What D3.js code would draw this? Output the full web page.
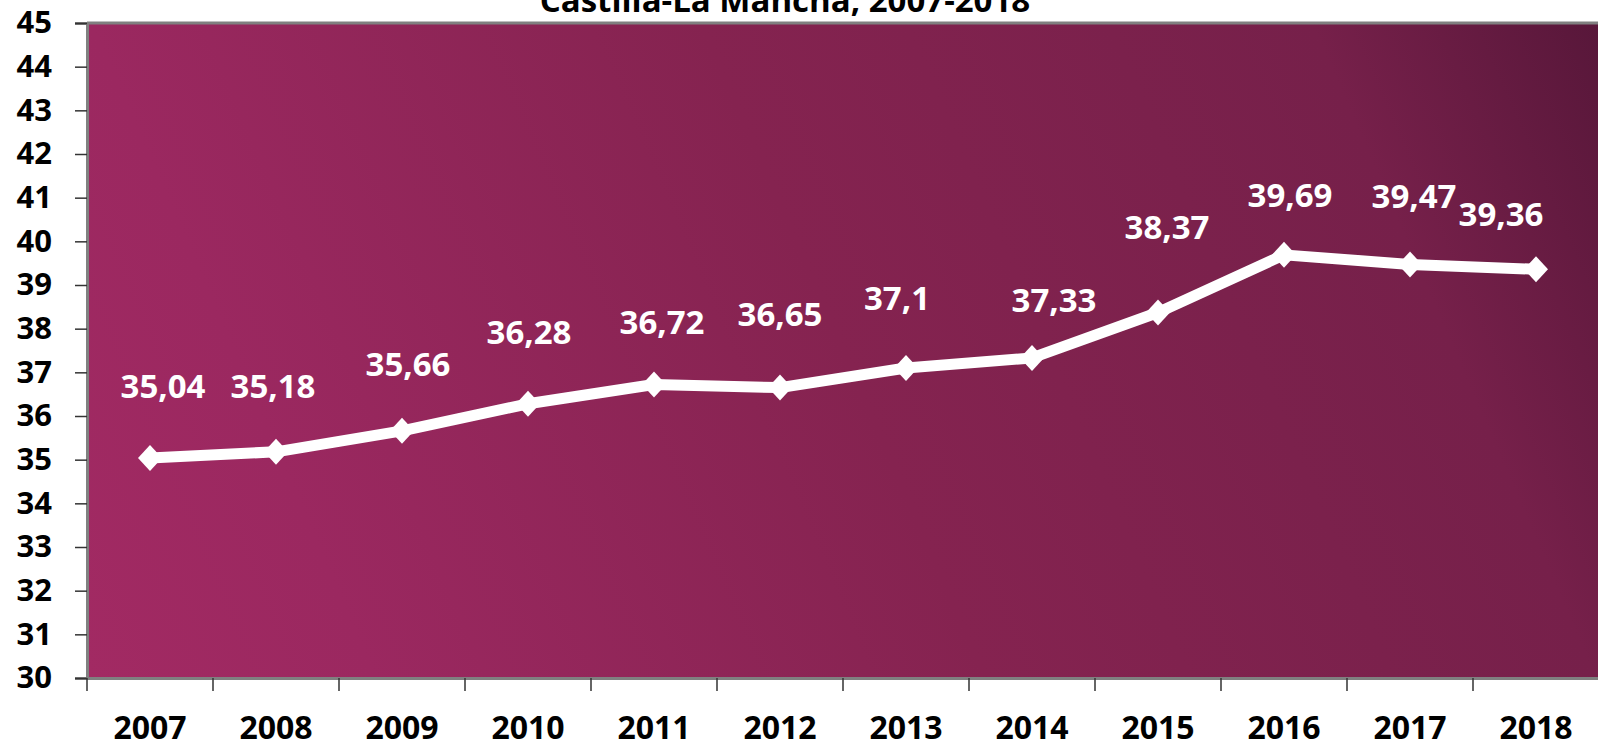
<!DOCTYPE html>
<html>
<head>
 <meta charset="utf-8">
 <title>Castilla-La Mancha, 2007-2018</title>
 <script src="https://d3js.org/d3.v7.min.js"></script>
 <style>
   html, body { margin: 0; padding: 0; background: #fff; overflow: hidden; }
   svg { display: block; font-family: "Open Sans", "DejaVu Sans", sans-serif; }
 </style>
</head>
<body>
 <div id="chart"></div>
 <script>
   // chart data
   const years = ["2007", "2008", "2009", "2010", "2011", "2012", "2013", "2014", "2015", "2016", "2017", "2018"];
   const values = [35.04, 35.18, 35.66, 36.28, 36.72, 36.65, 37.1, 37.33, 38.37, 39.69, 39.47, 39.36];
   const yTicks = d3.range(30, 46, 1);
   const title = "Castilla-La Mancha, 2007-2018";

   // labels were moved by hand in the original, so keep their nudges (px from the point)
   const labelDx = [13, -3, 6, 1, 8, 0, -9, 22, 9, 6, 4, -35];
   const labelDy = [-72, -66, -67, -72, -63, -74, -70, -58, -86, -60, -68, -55];

   const width = 1598, height = 745;
   const margin = { top: 23, right: -1, bottom: 67, left: 87 };

   const svg = d3.select('#chart')
     .append('svg')
     .attr('width', width)
     .attr('height', height);

   const x = d3.scaleBand()
     .domain(years)
     .range([margin.left, width - margin.right]);

   const y = d3.scaleLinear()
     .domain([30, 45])
     .range([height - margin.bottom, margin.top]);

   // background gradient of the plot area
   const grad = svg.append('defs').append('linearGradient')
     .attr('id', 'bg')
     .attr('gradientUnits', 'userSpaceOnUse')
     .attr('x1', x.range()[0]).attr('y1', y(30))
     .attr('x2', x.range()[1]).attr('y2', y(45));
   [[0, '#a22a63'], [0.16, '#9b2860'], [0.5, '#852350'], [0.84, '#76204a'], [1, '#58173a']]
     .forEach(s => grad.append('stop').attr('offset', s[0]).attr('stop-color', s[1]));

   svg.append('rect')
     .attr('x', x.range()[0])
     .attr('y', y(45))
     .attr('width', x.range()[1] - x.range()[0])
     .attr('height', y(30) - y(45))
     .attr('fill', 'url(#bg)');

   // plot border (top)
   svg.append('line')
     .attr('x1', x.range()[0]).attr('x2', x.range()[1])
     .attr('y1', y(45)).attr('y2', y(45))
     .attr('stroke', '#808080')
     .attr('stroke-width', 3);

   // title, its top runs off the page like in the source
   svg.append('text')
     .attr('x', 785)
     .attr('y', 12)
     .attr('text-anchor', 'middle')
     .attr('font-size', 33)
     .attr('font-weight', 700)
     .attr('fill', '#000')
     .text(title);

   // y axis
   const yAxis = svg.append('g')
     .attr('transform', `translate(${margin.left},0)`)
     .call(d3.axisLeft(y).tickValues(yTicks).tickSize(12).tickPadding(23).tickFormat(d3.format('d')));
   yAxis.select('.domain').attr('stroke', '#808080').attr('stroke-width', 3);
   yAxis.selectAll('.tick line').attr('stroke', '#333').attr('stroke-width', 1.5);
   yAxis.selectAll('.tick text')
     .attr('font-size', 31)
     .attr('font-weight', 700)
     .attr('fill', '#000')
     .attr('font-family', '"Open Sans", sans-serif');

   // x axis: labels at band centres, tick marks between bands
   const xAxis = svg.append('g')
     .attr('transform', `translate(0,${y(30)})`)
     .call(d3.axisBottom(x).tickSize(0).tickPadding(38));
   xAxis.select('.domain').attr('stroke', '#808080').attr('stroke-width', 3);
   xAxis.selectAll('.tick text')
     .attr('font-size', 32)
     .attr('font-weight', 700)
     .attr('fill', '#000')
     .attr('font-family', '"Open Sans", sans-serif');

   xAxis.selectAll('line.sep')
     .data(years)
     .enter()
     .append('line')
     .attr('class', 'sep')
     .attr('x1', d => x(d)).attr('x2', d => x(d))
     .attr('y1', 0).attr('y2', 13)
     .attr('stroke', '#333')
     .attr('stroke-width', 1.5);

   // the line
   const pts = years.map((d, i) => [x(d) + x.bandwidth() / 2, y(values[i])]);

   svg.append('path')
     .attr('d', d3.line()(pts))
     .attr('fill', 'none')
     .attr('stroke', '#fff')
     .attr('stroke-width', 11)
     .attr('stroke-linejoin', 'round');

   svg.selectAll('path.marker')
     .data(pts)
     .enter()
     .append('path')
     .attr('class', 'marker')
     .attr('d', 'M0,-13L12,0L0,13L-12,0Z')
     .attr('transform', d => `translate(${d[0]},${d[1]})`)
     .attr('fill', '#fff');

   // data labels
   svg.selectAll('text.val')
     .data(values)
     .enter()
     .append('text')
     .attr('class', 'val')
     .attr('x', (d, i) => pts[i][0] + labelDx[i])
     .attr('y', (d, i) => pts[i][1] + labelDy[i] + 12)
     .attr('text-anchor', 'middle')
     .attr('font-size', 33)
     .attr('font-weight', 700)
     .attr('fill', '#fff')
     .text(d => String(d).replace('.', ','));
 </script>
</body>
</html>
